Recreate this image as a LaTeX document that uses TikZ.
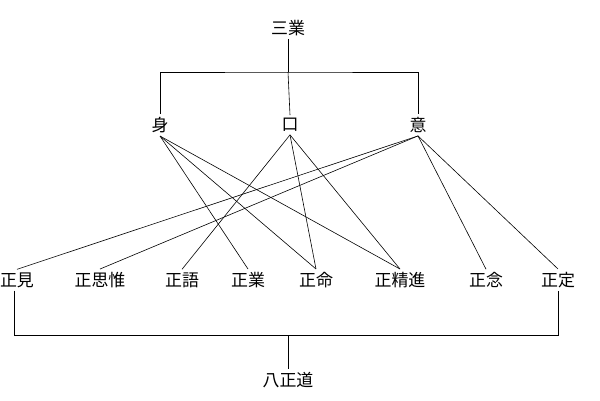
\documentclass[tikz,border=0pt]{standalone}
\usepackage{fontspec}
\setmainfont{Noto Sans CJK JP}
\begin{document}
\begin{tikzpicture}[
	x=1bp, y=-1bp,
	word/.style={font=\fontsize{17}{17}\selectfont, inner sep=3pt},
	link/.style={draw, line width=0.6pt}
	]
	\useasboundingbox (0,0) rectangle (600,400);
	\node [word] (sangyo) at (288, 28) {三業};
	\node [word] (shin) at (160, 125) {身};
	\node [word] (ku) at (290, 125) {口};
	\node [word] (i) at (418, 125) {意};
	\node [word] (ken) at (17, 280) {正見};
	\node [word] (shiyui) at (100, 280) {正思惟};
	\node [word] (go) at (182, 280) {正語};
	\node [word] (gyo) at (248, 280) {正業};
	\node [word] (myo) at (316, 280) {正命};
	\node [word] (shojin) at (400, 280) {正精進};
	\node [word] (nen) at (486, 280) {正念};
	\node [word] (jo) at (558, 280) {正定};
	\node [word] (hasshodo) at (288, 380) {八正道};
	
	% upper bracket
	\draw [link] (sangyo) -- (288, 72);
	\draw [link] (shin.north) |- (288, 72) -| (i.north);
	\draw [link] (288, 72) -- (ku.north);
	% lower bracket
	\draw [link] (ken.south -| 14, 0) |- (288, 335) -| (jo.south);
	\draw [link] (288, 335) -- (hasshodo);
	
	\foreach \t in {gyo, myo, shojin} \draw [link] (shin.south) -- (\t.north);
	\foreach \t in {go, myo, shojin} \draw [link] (ku.south) -- (\t.north);
	\foreach \t in {ken, shiyui, nen, jo} \draw [link] (i.south) -- (\t.north);
\end{tikzpicture}
\end{document}
